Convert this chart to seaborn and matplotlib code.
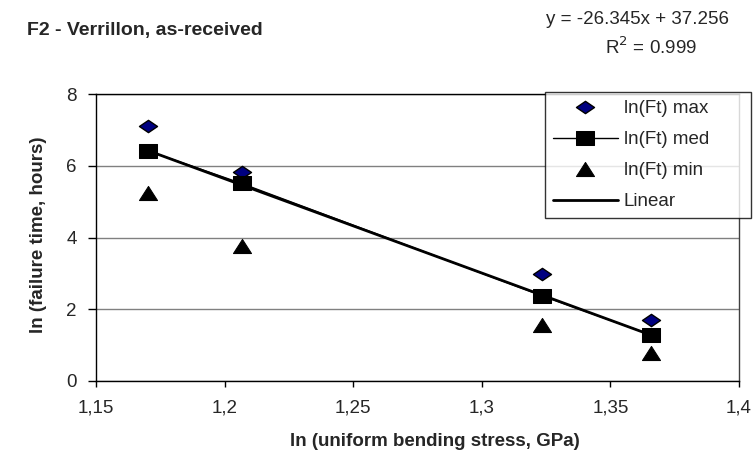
import numpy as np
import matplotlib
matplotlib.use("Agg")
import matplotlib.pyplot as plt
from matplotlib.path import Path
import seaborn as sns
import pandas as pd

# data
stress = [1.1702, 1.2066, 1.3235, 1.3658]
ln_ft_max = [7.12, 5.82, 2.98, 1.70]
ln_ft_med = [6.42, 5.51, 2.37, 1.28]
ln_ft_min = [5.23, 3.77, 1.55, 0.77]

# trend line from the fitted equation shown on the chart
fit_slope = -26.345
fit_intercept = 37.256
r_squared = 0.999

x_ticks = [1.15, 1.2, 1.25, 1.3, 1.35, 1.4]
x_tick_labels = ["1,15", "1,2", "1,25", "1,3", "1,35", "1,4"]
y_ticks = [0, 2, 4, 6, 8]

sns.set_theme(style="white")
plt.rcParams["font.family"] = ["Liberation Sans", "DejaVu Sans"]

# flattened markers (chart is stretched horizontally)
diamond = Path([(-1, 0), (0, 0.68), (1, 0), (0, -0.68), (-1, 0)],
               [Path.MOVETO, Path.LINETO, Path.LINETO, Path.LINETO, Path.CLOSEPOLY])
square = Path([(-1, -0.78), (1, -0.78), (1, 0.78), (-1, 0.78), (-1, -0.78)],
              [Path.MOVETO, Path.LINETO, Path.LINETO, Path.LINETO, Path.CLOSEPOLY])
triangle = Path([(0, 0.78), (-1, -0.78), (1, -0.78), (0, 0.78)],
                [Path.MOVETO, Path.LINETO, Path.LINETO, Path.CLOSEPOLY])

df = pd.DataFrame({"stress": stress, "max": ln_ft_max, "med": ln_ft_med, "min": ln_ft_min})

fig = plt.figure(figsize=(7.54, 4.74), dpi=100)
ax = fig.add_axes([96 / 754, 1 - 380.7 / 474, (739 - 96) / 754, (380.7 - 94.3) / 474])

sns.lineplot(data=df, x="stress", y="max", ax=ax, linestyle="", marker=diamond,
             markersize=13, color="#000080", markeredgecolor="black",
             markeredgewidth=1, label="ln(Ft) max")
sns.lineplot(data=df, x="stress", y="med", ax=ax, color="black", linewidth=1,
             marker=square, markersize=13, markeredgecolor="black", label="ln(Ft) med")
sns.lineplot(data=df, x="stress", y="min", ax=ax, linestyle="", marker=triangle,
             markersize=13, color="black", markeredgecolor="black", label="ln(Ft) min")

x_fit = np.array([stress[0], stress[-1]])
ax.plot(x_fit, fit_slope * x_fit + fit_intercept, color="black", linewidth=2, label="Linear")

ax.set_xlim(1.15, 1.4)
ax.set_ylim(0, 8)
ax.set_xticks(x_ticks)
ax.set_xticklabels(x_tick_labels)
ax.set_yticks(y_ticks)
ax.set_xlabel("")
ax.set_ylabel("")
ax.yaxis.grid(True, color="#808080", linewidth=1)
ax.set_axisbelow(True)
for s in ax.spines.values():
    s.set_color("black")
    s.set_linewidth(1)
ax.spines["right"].set_color("#404040")
ax.tick_params(axis="x", direction="out", length=4.5, width=1, color="black",
               pad=9, labelsize=13.5, bottom=True)
ax.tick_params(axis="y", direction="out", length=6, width=1, color="black",
               pad=8, labelsize=13.5, left=True)

# legend box spans 545..751 px wide in the reference
leg = ax.legend(loc="upper left",
                bbox_to_anchor=(545 / 754, 1 - 217 / 474, 206 / 754, 124.7 / 474),
                bbox_transform=fig.transFigure, mode="expand", borderaxespad=0,
                frameon=True, fancybox=False, edgecolor="black", fontsize=13.5,
                handlelength=3.45, handletextpad=0.33, borderpad=0.42, labelspacing=0.74)
leg.get_frame().set_linewidth(1)

fig.text(27 / 754, 1 - 30 / 474, "F2 - Verrillon, as-received", fontsize=14,
         fontweight="bold", ha="left", va="center")
fig.text(637 / 754, 1 - 20 / 474, f"y = {fit_slope}x + {fit_intercept}", fontsize=13.5,
         ha="center", va="center")
fig.text(651 / 754, 1 - 47 / 474, f"R$^2$ = {r_squared}", fontsize=13.5,
         ha="center", va="center")
fig.text(39 / 754, 1 - 235 / 474, "ln (failure time, hours)", fontsize=13.5,
         fontweight="bold", rotation=90, ha="center", va="center")
fig.text(435 / 754, 1 - 441 / 474, "ln (uniform bending stress, GPa)", fontsize=13.5,
         fontweight="bold", ha="center", va="center")

fig.savefig("out.png", dpi=100)
